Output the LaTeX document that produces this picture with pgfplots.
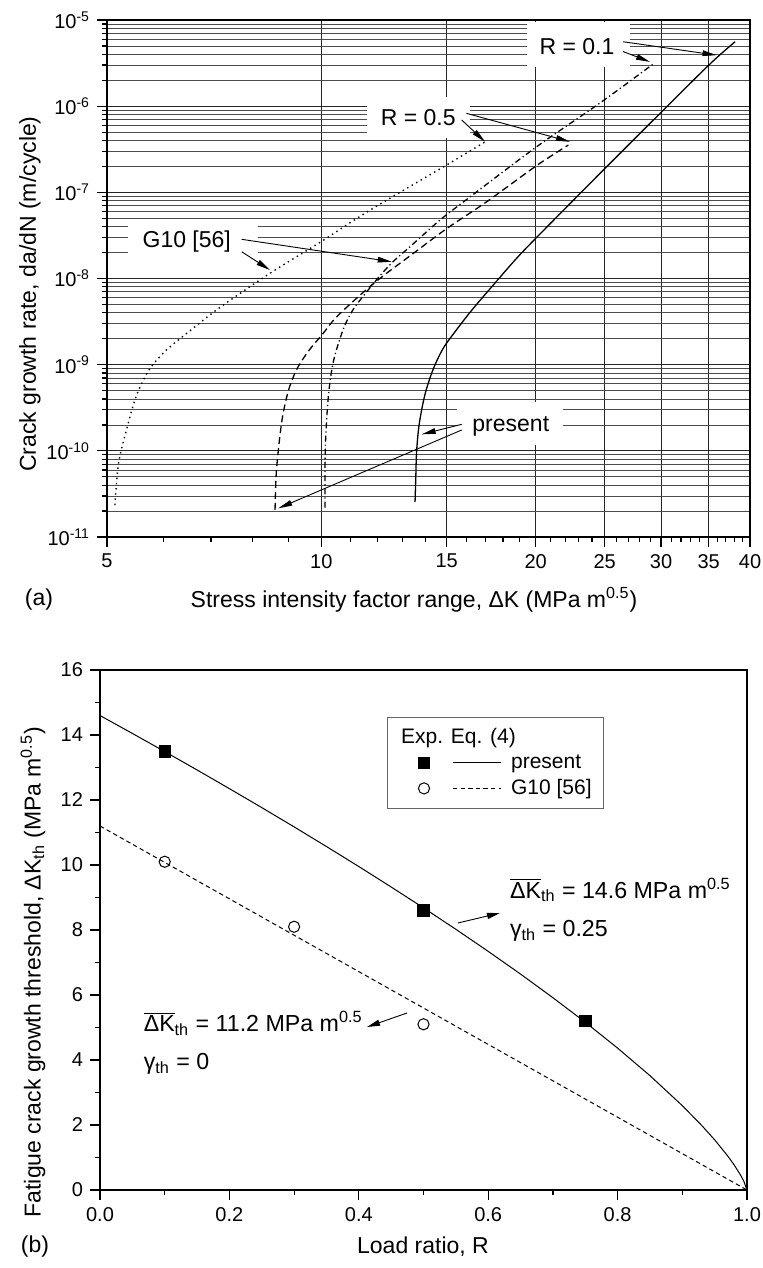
\documentclass[border=0pt]{standalone}
\usepackage{fontspec}
\setmainfont{Liberation Sans}
\usepackage{pgfplots}
\pgfplotsset{compat=1.18}
\usetikzlibrary{arrows.meta}

\newcommand{\lab}{\fontsize{11.5}{14}\selectfont}
\newcommand{\anb}{\fontsize{11.6}{14}\selectfont}
\newcommand{\leg}{\fontsize{10.5}{12}\selectfont}
\tikzset{ann/.style={line width=0.45pt, -{Triangle[length=7pt,width=2.8pt]}}}

\begin{document}
\begin{tikzpicture}
\useasboundingbox (0,0) rectangle (381.5pt,-634pt);

% (a) crack growth curves
\begin{axis}[
  at={(53.5pt,-268.5pt)}, anchor=south west,
  scale only axis, width=321.5pt, height=258.5pt,
  xmode=log, ymode=log,
  xmin=5, xmax=40, ymin=1e-11, ymax=1e-5,
  xtick={5,10,15,20,25,30,35,40}, xticklabels={5,10,15,20,25,30,35,40},
  minor xtick={6,7,8,9,11,12,13,14,16,17,18,19,21,22,23,24,26,27,28,29,31,32,33,34,36,37,38,39},
  ytick={1e-11,1e-10,1e-9,1e-8,1e-7,1e-6,1e-5},
  yticklabels={10\textsuperscript{-11},10\textsuperscript{-10},10\textsuperscript{-9},10\textsuperscript{-8},10\textsuperscript{-7},10\textsuperscript{-6},10\textsuperscript{-5}},
  minor ytick={2e-11,3e-11,4e-11,5e-11,6e-11,7e-11,8e-11,9e-11,
    2e-10,3e-10,4e-10,5e-10,6e-10,7e-10,8e-10,9e-10,
    2e-9,3e-9,4e-9,5e-9,6e-9,7e-9,8e-9,9e-9,
    2e-8,3e-8,4e-8,5e-8,6e-8,7e-8,8e-8,9e-8,
    2e-7,3e-7,4e-7,5e-7,6e-7,7e-7,8e-7,9e-7,
    2e-6,3e-6,4e-6,5e-6,6e-6,7e-6,8e-6,9e-6},
  xmajorgrids, ymajorgrids, yminorgrids,
  major grid style={black!85, line width=0.45pt},
  minor grid style={black!70, line width=0.4pt},
  tick pos=left, tick align=outside,
  major tick length=5pt, minor tick length=2.5pt,
  every tick/.style={black, line width=0.6pt},
  axis line style={line width=0.75pt},
  tick label style={font=\fontsize{10}{12}\selectfont},
  label style={font=\lab},
  xlabel={Stress intensity factor range, ΔK (MPa m\textsuperscript{0.5})},
  ylabel={Crack growth rate, da/dN (m/cycle)},
  xlabel style={at={(axis description cs:0.4774,-0.1219)}, anchor=center},
  ylabel style={at={(axis description cs:-0.1198,0.470)}, anchor=center},
  clip=false,
]
% present, R = 0.1
\addplot[black, line width=0.65pt, smooth] coordinates {
  (13.54,2.55e-11) (13.57,4.6e-11) (13.61,1.0e-10) (13.73,2.1e-10)
  (13.99,4.6e-10) (14.37,9.0e-10) (14.84,1.56e-9) (15.5,2.57e-9)
  (16.3,4.38e-9) (17.44,8.4e-9) (19.02,1.9e-8) (21.5,5.35e-8)
  (25.03,1.90e-7) (30.07,8.63e-7) (35.16,3.1e-6) (38.12,5.6e-6)};
% present, R = 0.5
\addplot[black, line width=0.65pt, dash pattern=on 3.5pt off 2pt, smooth] coordinates {
  (8.61,2.06e-11) (8.65,6.0e-11) (8.80,2.2e-10) (8.99,5.0e-10)
  (9.24,8.9e-10) (9.6,1.45e-9) (10.06,2.31e-9) (10.51,3.6e-9)
  (11.58,7.5e-9) (12.35,1.15e-8) (13.47,1.96e-8) (15.0,3.8e-8)
  (17.08,7.8e-8) (20.07,2.05e-7) (22.23,3.54e-7)};
% G10, R = 0.1
\addplot[black, line width=0.65pt, dash pattern=on 3pt off 1.5pt on 0.6pt off 1.5pt, smooth] coordinates {
  (10.12,2.2e-11) (10.13,1.1e-10) (10.23,4.3e-10) (10.40,1.1e-9)
  (10.74,2.6e-9) (11.09,4.4e-9) (11.58,7.0e-9) (12.09,1.08e-8)
  (12.62,1.58e-8) (13.33,2.35e-8) (14.68,4.78e-8) (16.01,8.3e-8)
  (20.07,3.39e-7) (24.63,1.09e-6) (29.27,3.1e-6)};
% G10, R = 0.5
\addplot[black, line width=0.7pt, dash pattern=on 0.7pt off 1.9pt, smooth] coordinates {
  (5.13,2.35e-11) (5.19,7.2e-11) (5.33,1.8e-10) (5.50,4.4e-10)
  (5.74,8.9e-10) (6.07,1.5e-9) (6.57,2.55e-9) (7.2,4.6e-9)
  (8.47,1.15e-8) (10.01,2.7e-8) (11.09,4.7e-8) (12.22,7.7e-8)
  (15.0,2.08e-7) (16.98,3.85e-7)};

\fill[white] (rel axis cs:0.653,0.909) rectangle (rel axis cs:0.813,0.996);
\fill[white] (rel axis cs:0.404,0.772) rectangle (rel axis cs:0.565,0.851);
\fill[white] (rel axis cs:0.033,0.532) rectangle (rel axis cs:0.235,0.611);
\fill[white] (rel axis cs:0.544,0.178) rectangle (rel axis cs:0.709,0.261);
\node[font=\lab] at (rel axis cs:0.731,0.948) {R = 0.1};
\node[font=\lab] at (rel axis cs:0.484,0.812) {R = 0.5};
\node[font=\lab] at (rel axis cs:0.124,0.571) {G10 [56]};
\node[font=\lab] at (rel axis cs:0.628,0.213) {present};
\draw[ann] (rel axis cs:0.8025,0.958) -- (rel axis cs:0.948,0.932);
\draw[ann] (rel axis cs:0.8025,0.939) -- (rel axis cs:0.8445,0.919);
\draw[ann] (rel axis cs:0.559,0.8195) -- (rel axis cs:0.720,0.7646);
\draw[ann] (rel axis cs:0.5516,0.8066) -- (rel axis cs:0.5879,0.7646);
\draw[ann] (rel axis cs:0.2095,0.5758) -- (rel axis cs:0.4428,0.5325);
\draw[ann] (rel axis cs:0.2095,0.5518) -- (rel axis cs:0.2535,0.5164);
\draw[ann] (rel axis cs:0.5516,0.218) -- (rel axis cs:0.4894,0.1986);
\draw[ann] (rel axis cs:0.5516,0.207) -- (rel axis cs:0.2664,0.0555);
\end{axis}
\node[font=\lab] at (19.5pt,-300pt) {(a)};

% (b) threshold vs load ratio
\begin{axis}[
  at={(50pt,-595pt)}, anchor=south west,
  scale only axis, width=323.5pt, height=260pt,
  xmin=0, xmax=1, ymin=0, ymax=16,
  xtick={0,0.2,0.4,0.6,0.8,1}, xticklabels={0.0,0.2,0.4,0.6,0.8,1.0},
  ytick={0,2,4,6,8,10,12,14,16}, yticklabels={0,2,4,6,8,10,12,14,16},
  minor x tick num=1, minor y tick num=1,
  tick pos=left, tick align=outside,
  major tick length=5pt, minor tick length=2.5pt,
  every tick/.style={black, line width=0.6pt},
  axis line style={line width=0.75pt},
  tick label style={font=\fontsize{10}{12}\selectfont},
  label style={font=\lab},
  xlabel={Load ratio, R},
  ylabel={Fatigue crack growth threshold, ΔK\textsubscript{th} (MPa m\textsuperscript{0.5})},
  xlabel style={at={(axis description cs:0.4992,-0.1096)}, anchor=center},
  ylabel style={at={(axis description cs:-0.1036,0.419)}, anchor=center},
  legend style={at={(0.4436,0.9096)}, anchor=north west, draw=black!60,
    line width=0.5pt, inner xsep=5pt, inner ysep=4.5pt, row sep=2.5pt,
    column sep=4pt, font=\leg,
    nodes={inner sep=0.8pt, anchor=west}},
  legend cell align=left,
  clip=false,
]
\addplot[black, line width=0.5pt, forget plot] coordinates {
  (0,14.6) (0.05,14.049) (0.1,13.491) (0.15,12.925) (0.2,12.350)
  (0.25,11.767) (0.3,11.173) (0.35,10.569) (0.4,9.953) (0.45,9.324)
  (0.5,8.681) (0.55,8.022) (0.6,7.343) (0.65,6.644) (0.7,5.918)
  (0.75,5.162) (0.8,4.366) (0.85,3.519) (0.9,2.596) (0.93,1.987)
  (0.95,1.544) (0.97,1.052) (0.98,0.776) (0.99,0.462) (0.995,0.274) (1,0)};
\addplot[black, line width=0.5pt, dash pattern=on 2.2pt off 1.6pt, forget plot] coordinates {
  (0,11.2) (1,0)};
\addplot[black, only marks, mark=square*, mark size=2.9pt, forget plot] coordinates {
  (0.1,13.5) (0.5,8.6) (0.75,5.2)};
\addplot[black, only marks, mark=o, mark size=2.8pt, mark options={line width=0.5pt, fill=white}, forget plot] coordinates {
  (0.1,10.1) (0.3,8.1) (0.5,5.1)};

\addlegendimage{empty legend}
\addlegendentry{\leg\hspace*{-55pt}Exp. Eq. (4)}
\addlegendimage{legend image code/.code={
  \path (-13pt,0pt) (38.5pt,0pt);
  \draw[black, line width=0.5pt] (14.5pt,0pt) -- (38.5pt,0pt);
  \draw[black, fill=black, line width=0.5pt] plot[only marks, mark=square*, mark size=2.9pt] coordinates {(0pt,0pt)};}}
\addlegendentry{\leg present}
\addlegendimage{legend image code/.code={
  \path (-13pt,0pt) (38.5pt,0pt);
  \draw[black, line width=0.5pt, dash pattern=on 2.2pt off 1.6pt] (14.5pt,0pt) -- (38.5pt,0pt);
  \draw[black, fill=white, line width=0.5pt] plot[only marks, mark=o, mark size=2.8pt] coordinates {(0pt,0pt)};}}
\addlegendentry{\leg G10 [56]}

\node[font=\anb, anchor=base west] at (rel axis cs:0.6229,0.5615)
  {$\overline{\mbox{ΔK}}$\textsubscript{th} = 14.6 MPa m\textsuperscript{0.5}};
\node[font=\anb, anchor=base west] at (rel axis cs:0.6229,0.4871)
  {γ\textsubscript{th} = 0.25};
\node[font=\anb, anchor=base west] at (rel axis cs:0.0567,0.3045)
  {$\overline{\mbox{ΔK}}$\textsubscript{th} = 11.2 MPa m\textsuperscript{0.5}};
\node[font=\anb, anchor=base west] at (rel axis cs:0.0567,0.2308)
  {γ\textsubscript{th} = 0};
\draw[line width=0.45pt, -{Triangle[length=6.5pt,width=3pt]}] (rel axis cs:0.5533,0.5135) -- (rel axis cs:0.6182,0.5327);
\draw[line width=0.45pt, -{Triangle[length=6.5pt,width=3pt]}] (rel axis cs:0.4745,0.3404) -- (rel axis cs:0.4127,0.3135);
\end{axis}
\node[font=\lab] at (17.5pt,-623.5pt) {(b)};
\end{tikzpicture}
\end{document}
